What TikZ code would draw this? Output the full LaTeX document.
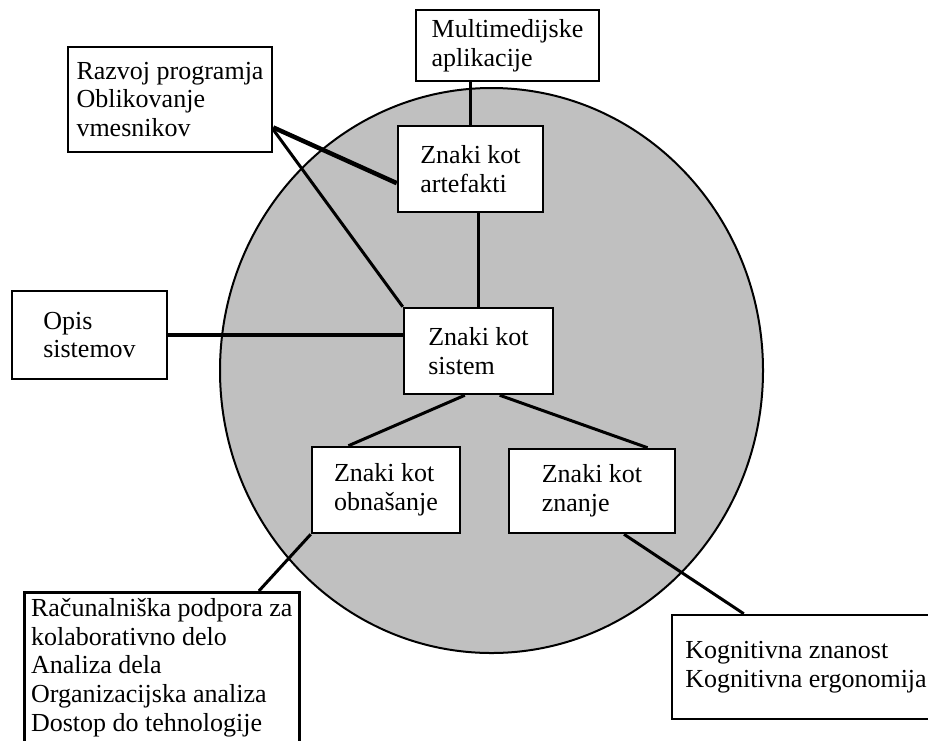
\documentclass[tikz,border=0pt]{standalone}
\usepackage{fontspec}
\setmainfont{Liberation Serif}
\usepackage{tikz}
\usetikzlibrary{calc}
\definecolor{zkGray}{RGB}{192,192,192}

\begin{document}
\begin{tikzpicture}[x=1pt, y=-1pt,
  font=\fontsize{26}{28.7}\selectfont,
  sign/.style={draw, line width=2.5pt, fill=white, align=left, inner sep=0pt},
  link/.style={line width=3pt},
]
\useasboundingbox (0,0) rectangle (928,740);
% background circle
\draw[line width=2pt, fill=zkGray] (491.5,370.5) ellipse [x radius=271.5pt, y radius=282.5pt];
% signs inside
\node[sign, minimum width=145, minimum height=86] (artefakti) at (470.5,169) {Znaki kot\\artefakti};
\node[sign, minimum width=149, minimum height=86] (sistem) at (478.5,351) {Znaki kot\\sistem};
\node[sign, minimum width=148, minimum height=86] (obnasanje) at (386,490) {Znaki kot\\obnašanje};
\node[sign, minimum width=166, minimum height=84] (znanje) at (592,491) {Znaki kot\\znanje};
% fields outside
\node[sign, minimum width=183, minimum height=71] (multi) at (507.5,45.5) {Multimedijske\\aplikacije};
\node[sign, minimum width=204, minimum height=105] (razvoj) at (170,99.5) {Razvoj programja\\Oblikovanje\\vmesnikov};
\node[sign, minimum width=155, minimum height=88] (opis) at (89.5,335) {Opis\\sistemov};
\node[sign, anchor=north west, minimum width=275, inner ysep=6pt, text depth=20pt] (racun) at (23,591)
  {Računalniška podpora za\\kolaborativno delo\\Analiza dela\\Organizacijska analiza\\Dostop do tehnologije};
\node[sign, minimum width=268, minimum height=104] (kogn) at (806,667) {Kognitivna znanost\\Kognitivna ergonomija};
% links
\draw[link] (multi.south -| artefakti.north) -- (artefakti.north);
\draw[link, line width=4.5pt] ($(razvoj.north east)!0.76!(razvoj.south east)$) -- ($(artefakti.north west)!0.66!(artefakti.south west)$);
\draw[link] ($(razvoj.north east)!0.78!(razvoj.south east)$) -- (sistem.north west);
\draw[link] (artefakti.south -| sistem.north) -- (sistem.north);
\draw[link, line width=4pt] (opis.east) -- (opis.east -| sistem.west);
\draw[link] ($(sistem.south west)!0.41!(sistem.south east)$) -- ($(obnasanje.north west)!0.25!(obnasanje.north east)$);
\draw[link] ($(sistem.south west)!0.64!(sistem.south east)$) -- ($(znanje.north west)!0.83!(znanje.north east)$);
\draw[link] (obnasanje.south west) -- ($(racun.north west)!0.85!(racun.north east)$);
\draw[link] ($(znanje.south west)!0.69!(znanje.south east)$) -- ($(kogn.north west)!0.27!(kogn.north east)$);
\end{tikzpicture}
\end{document}
